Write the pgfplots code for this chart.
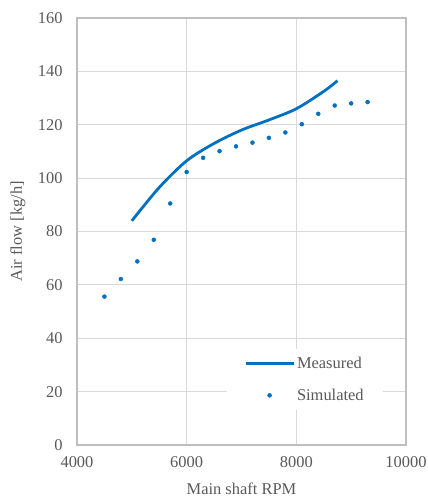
\documentclass[border=0pt]{standalone}
\usepackage{fontspec}
\setmainfont{Liberation Serif}
\usepackage{pgfplots}
\pgfplotsset{compat=1.18}
\definecolor{txt}{HTML}{595959}
\definecolor{gridc}{HTML}{D9D9D9}
\definecolor{axc}{HTML}{BFBFBF}
\definecolor{blu}{HTML}{0070C0}
\begin{document}
\begin{tikzpicture}
\useasboundingbox (-77bp,-54bp) rectangle (351bp,445bp);
\begin{axis}[
  at={(0,0)}, anchor=south west,
  scale only axis, width=329bp, height=427bp,
  xmin=4000, xmax=10000, ymin=0, ymax=160,
  xtick={4000,6000,8000,10000}, ytick={0,20,...,160},
  scaled ticks=false,
  /pgf/number format/assume math mode=true,
  /pgf/number format/1000 sep={},
  major tick length=0pt,
  grid=major, grid style={gridc, line width=1.2bp},
  axis line style={axc, line width=1.3bp},
  font=\fontsize{16.5}{19}\selectfont,
  tick label style={text=txt},
  xticklabel style={yshift=-8bp},
  yticklabel style={xshift=-11bp},
  label style={text=txt},
  xlabel={Main shaft RPM},
  ylabel={Air flow [kg/h]},
  xlabel style={at={(axis description cs:0.5,-0.102)}, anchor=center},
  ylabel style={at={(axis description cs:-0.18,0.5)}, anchor=center},
  legend style={draw=none, fill=white, text=txt, at={(0.456,0.082)}, anchor=south west,
    inner xsep=17bp, inner ysep=6bp, row sep=15bp, font=\fontsize{16.5}{19}\selectfont},
  legend cell align=left,
]
\addplot[blu, line width=2.8bp, smooth, no marks,
  legend image code/.code={\draw[blu, line width=2.8bp] (0bp,0bp) -- (48bp,0bp);}]
  coordinates {(5000,84)(5500,96.5)(6000,106.5)(6500,113)(7000,118)(7500,121.8)(8000,126)(8500,132.5)(8750,136.5)};
\addlegendentry{Measured}
\addplot[blu, only marks, mark=*, mark size=2bp,
  legend image code/.code={\fill[blu] (24bp,0bp) circle (2bp);}]
  coordinates {(4500,55.6)(4800,62.2)(5100,68.8)(5400,76.9)(5700,90.5)(6000,102.3)(6300,107.6)(6600,110.1)(6900,111.9)(7200,113.3)(7500,115.1)(7800,117.1)(8100,120.2)(8400,124.1)(8700,127.2)(9000,128.0)(9300,128.5)};
\addlegendentry{Simulated}
\end{axis}
\end{tikzpicture}
\end{document}
